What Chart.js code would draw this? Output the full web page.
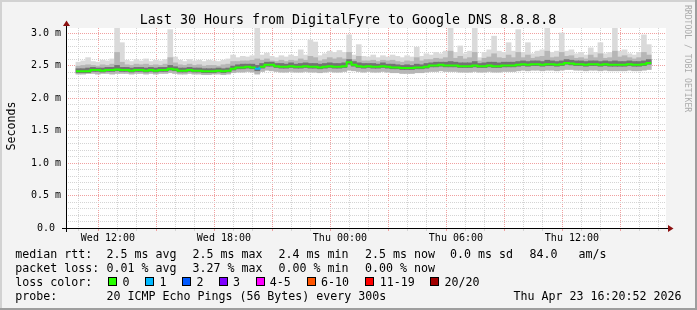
<!DOCTYPE html>
<html><head><meta charset="utf-8">
<script src="https://cdn.jsdelivr.net/npm/chart.js@4"></script>
<style>html,body{margin:0;padding:0;background:#f3f3f3;}canvas{display:block;}</style>
</head><body>
<canvas id="c" width="697" height="310"></canvas>
<script>
const title = 'Last 30 Hours from DigitalFyre to Google DNS 8.8.8.8';
const startMinute = 620.87;   // Wed 10:20:52 (minutes since Wed 00:00)
const endMinute = 2420.87;    // Thu 16:20:52
const binMinutes = 15;

const median = [
2.41,2.41,2.41,2.43,2.43,2.42,2.43,2.43,2.44,2.43,
2.43,2.42,2.43,2.43,2.42,2.43,2.42,2.43,2.43,2.45,
2.44,2.42,2.42,2.43,2.42,2.42,2.41,2.41,2.41,2.42,
2.41,2.42,2.45,2.47,2.47,2.48,2.47,2.45,2.48,2.51,
2.51,2.49,2.48,2.48,2.49,2.48,2.48,2.49,2.48,2.48,
2.47,2.48,2.49,2.48,2.48,2.49,2.55,2.51,2.49,2.48,
2.49,2.48,2.48,2.49,2.48,2.47,2.47,2.46,2.46,2.46,
2.47,2.47,2.48,2.50,2.50,2.51,2.50,2.50,2.50,2.49,
2.49,2.49,2.50,2.49,2.49,2.50,2.49,2.49,2.50,2.50,
2.50,2.51,2.52,2.51,2.52,2.52,2.51,2.52,2.52,2.51,
2.52,2.54,2.53,2.52,2.52,2.51,2.52,2.52,2.51,2.52,
2.51,2.51,2.51,2.51,2.52,2.51,2.51,2.52,2.54];
const hi = [
2.55,2.57,2.62,2.56,2.55,2.58,2.57,2.60,3.10,2.85,
2.58,2.56,2.59,2.57,2.60,2.56,2.58,2.57,2.59,3.05,
2.63,2.58,2.56,2.59,2.57,2.58,2.56,2.58,2.57,2.56,
2.58,2.60,2.66,2.62,2.64,2.63,2.65,3.10,2.66,2.69,
2.64,2.62,2.65,2.63,2.66,2.64,2.74,2.66,2.89,2.86,
2.65,2.68,2.72,2.70,2.73,2.70,2.97,2.66,2.82,2.64,
2.63,2.66,2.62,2.65,2.63,2.66,2.64,2.62,2.65,2.63,
2.78,2.64,2.68,2.66,2.70,2.68,2.72,3.10,2.70,2.80,
2.68,2.72,3.10,2.62,2.70,2.74,2.95,2.72,2.70,2.85,
2.72,3.05,2.70,2.85,2.68,2.72,2.74,3.10,2.70,2.72,
3.00,2.72,2.74,2.68,2.70,2.66,2.77,2.70,2.85,2.68,
2.70,3.10,2.72,2.74,2.68,2.66,2.70,2.97,2.82];
const up = [
2.49,2.50,2.51,2.50,2.49,2.51,2.50,2.52,2.70,2.55,
2.51,2.50,2.52,2.51,2.52,2.50,2.51,2.50,2.52,2.62,
2.54,2.51,2.50,2.52,2.50,2.51,2.49,2.50,2.50,2.49,
2.51,2.52,2.56,2.56,2.57,2.57,2.58,2.60,2.58,2.60,
2.57,2.56,2.58,2.56,2.58,2.57,2.60,2.58,2.64,2.62,
2.57,2.59,2.62,2.60,2.62,2.60,2.70,2.59,2.64,2.57,
2.57,2.58,2.56,2.58,2.57,2.58,2.56,2.55,2.57,2.56,
2.62,2.57,2.59,2.59,2.61,2.60,2.62,2.72,2.61,2.64,
2.60,2.62,2.70,2.57,2.61,2.63,2.68,2.62,2.61,2.66,
2.62,2.70,2.62,2.66,2.61,2.63,2.64,2.72,2.62,2.63,
2.70,2.64,2.65,2.61,2.62,2.60,2.66,2.62,2.68,2.61,
2.62,2.72,2.63,2.65,2.62,2.60,2.62,2.70,2.66];
const q3 = [
2.45,2.45,2.46,2.47,2.46,2.46,2.47,2.47,2.50,2.47,
2.47,2.46,2.47,2.47,2.46,2.47,2.46,2.47,2.47,2.50,
2.48,2.46,2.46,2.47,2.46,2.46,2.45,2.45,2.45,2.46,
2.45,2.46,2.49,2.51,2.52,2.52,2.52,2.50,2.53,2.55,
2.55,2.53,2.53,2.52,2.54,2.52,2.53,2.54,2.53,2.53,
2.52,2.53,2.54,2.53,2.53,2.54,2.59,2.56,2.54,2.53,
2.53,2.53,2.52,2.54,2.52,2.52,2.51,2.50,2.51,2.50,
2.52,2.51,2.53,2.54,2.55,2.55,2.55,2.56,2.55,2.54,
2.54,2.54,2.56,2.53,2.54,2.55,2.55,2.54,2.55,2.55,
2.55,2.56,2.57,2.56,2.57,2.57,2.56,2.58,2.57,2.56,
2.57,2.59,2.58,2.57,2.57,2.56,2.57,2.57,2.56,2.57,
2.56,2.57,2.56,2.56,2.57,2.56,2.56,2.57,2.59];
const q1 = [
2.39,2.39,2.39,2.41,2.41,2.40,2.41,2.41,2.42,2.41,
2.41,2.40,2.41,2.41,2.40,2.41,2.40,2.41,2.41,2.43,
2.42,2.40,2.40,2.41,2.40,2.40,2.39,2.39,2.39,2.40,
2.39,2.40,2.43,2.45,2.45,2.46,2.45,2.42,2.46,2.49,
2.49,2.47,2.46,2.46,2.47,2.46,2.46,2.47,2.46,2.46,
2.45,2.46,2.47,2.46,2.46,2.47,2.52,2.49,2.47,2.46,
2.47,2.46,2.46,2.47,2.46,2.45,2.45,2.44,2.44,2.44,
2.45,2.45,2.46,2.48,2.48,2.49,2.48,2.48,2.48,2.47,
2.47,2.47,2.48,2.47,2.47,2.48,2.47,2.47,2.48,2.48,
2.48,2.49,2.50,2.49,2.50,2.50,2.49,2.50,2.50,2.49,
2.50,2.52,2.51,2.50,2.50,2.49,2.50,2.50,2.49,2.50,
2.49,2.49,2.49,2.49,2.50,2.49,2.49,2.50,2.52];
const lo = [
2.37,2.37,2.38,2.38,2.37,2.38,2.38,2.37,2.38,2.38,
2.38,2.37,2.38,2.38,2.37,2.38,2.37,2.38,2.38,2.39,
2.38,2.37,2.37,2.38,2.37,2.37,2.36,2.36,2.37,2.37,
2.36,2.37,2.39,2.40,2.40,2.41,2.40,2.37,2.41,2.43,
2.42,2.41,2.40,2.40,2.41,2.40,2.40,2.41,2.40,2.40,
2.39,2.40,2.41,2.40,2.40,2.41,2.43,2.42,2.41,2.40,
2.41,2.40,2.40,2.41,2.40,2.39,2.39,2.38,2.38,2.38,
2.39,2.39,2.40,2.41,2.41,2.42,2.41,2.41,2.41,2.40,
2.40,2.40,2.41,2.40,2.40,2.41,2.40,2.40,2.41,2.41,
2.41,2.42,2.43,2.42,2.43,2.43,2.42,2.43,2.43,2.42,
2.43,2.44,2.44,2.43,2.43,2.42,2.43,2.43,2.42,2.43,
2.42,2.42,2.42,2.42,2.43,2.42,2.42,2.43,2.44];
const lossBins = [37];      // bins with packet loss
const lossPings = [1];      // lost pings in those bins

const xTickMinutes = [720, 1080, 1440, 1800, 2160];
const xTickLabels = ['Wed 12:00', 'Wed 18:00', 'Thu 00:00', 'Thu 06:00', 'Thu 12:00'];
const yTickValues = [0, 0.5, 1.0, 1.5, 2.0, 2.5, 3.0];
const yTickLabels = ['0.0 ', '0.5 m', '1.0 m', '1.5 m', '2.0 m', '2.5 m', '3.0 m'];
const yMax = 3.077;

const lossLegend = ['0', '1', '2', '3', '4-5', '6-10', '11-19', '20/20'];
const lossColors = ['#26ff00', '#00b8ff', '#0059ff', '#7e00ff', '#ff00ff', '#ff5500', '#ff0000', '#a10000'];
const rttStats = ['2.5 ms avg', '2.5 ms max', '2.4 ms min', '2.5 ms now', '0.0 ms sd', '84.0', 'am/s'];
const lossStats = ['0.01 % avg', '3.27 % max', '0.00 % min', '0.00 % now'];
const probeText = '20 ICMP Echo Pings (56 Bytes) every 300s';
const stamp = 'Thu Apr 23 16:20:52 2026';
const credit = 'RRDTOOL / TOBI OETIKER';

const MONO = '"DejaVu Sans Mono", monospace';
const MAJOR = '#f0a0a0', MINOR = '#d4d4d4';

function lossColorIndex(p) {
  if (p <= 3) return p;
  if (p <= 5) return 4;
  if (p <= 10) return 5;
  if (p <= 19) return 6;
  return 7;
}
function binLoss(i) { const k = lossBins.indexOf(i); return k >= 0 ? lossPings[k] : 0; }

const centers = median.map((_, i) => startMinute + binMinutes * (i + 0.5));
const band = (a, b) => centers.map((x, i) => ({ x, y: [a[i], b[i]] }));
const medianSteps = median.map((v, i) => ({ x: startMinute + binMinutes * i, y: v }));
medianSteps.push({ x: startMinute + binMinutes * median.length, y: median[median.length - 1] });

const barCommon = { type: 'bar', barPercentage: 1, categoryPercentage: 1, grouped: false, borderWidth: 0, borderSkipped: false, inflateAmount: 0.4 };

const deco = {
  id: 'deco',
  beforeDraw(chart) {
    const { ctx, chartArea: a } = chart;
    ctx.save();
    ctx.fillStyle = '#f3f3f3'; ctx.fillRect(0, 0, 697, 310);
    ctx.fillStyle = '#d2d2d2'; ctx.fillRect(0, 0, 697, 2); ctx.fillRect(0, 0, 2, 310);
    ctx.fillStyle = '#9e9e9e'; ctx.fillRect(695, 0, 2, 310); ctx.fillRect(0, 308, 697, 2);
    ctx.fillStyle = '#ffffff'; ctx.fillRect(a.left, a.top, a.right - a.left, a.bottom - a.top);
    ctx.restore();
  },
  afterDraw(chart) {
    const { ctx, chartArea: a } = chart;
    ctx.save();
    ctx.strokeStyle = '#000'; ctx.lineWidth = 1;
    ctx.beginPath();
    ctx.moveTo(a.left - 4, a.bottom + 0.5); ctx.lineTo(a.right + 2, a.bottom + 0.5);
    ctx.moveTo(a.left + 0.5, a.bottom + 4); ctx.lineTo(a.left + 0.5, a.top - 2);
    ctx.stroke();
    ctx.fillStyle = '#8b1010';
    ctx.beginPath();
    ctx.moveTo(a.right + 2, a.bottom - 3); ctx.lineTo(a.right + 7.5, a.bottom + 0.5); ctx.lineTo(a.right + 2, a.bottom + 4);
    ctx.closePath(); ctx.fill();
    ctx.beginPath();
    ctx.moveTo(a.left - 3, a.top - 2); ctx.lineTo(a.left + 0.5, a.top - 7.5); ctx.lineTo(a.left + 4, a.top - 2);
    ctx.closePath(); ctx.fill();
    ctx.fillStyle = '#000';
    ctx.font = '13.3px ' + MONO; ctx.textAlign = 'center'; ctx.textBaseline = 'alphabetic';
    ctx.fillText(title, 348, 23.5);
    ctx.font = '11.63px ' + MONO;
    ctx.save(); ctx.translate(14.5, 126); ctx.rotate(-Math.PI / 2); ctx.fillText('Seconds', 0, 0); ctx.restore();
    ctx.save(); ctx.fillStyle = '#ababab'; ctx.font = '8.1px ' + MONO; ctx.textAlign = 'left';
    ctx.translate(685, 5); ctx.rotate(Math.PI / 2); ctx.fillText(credit, 0, 0); ctx.restore();
    ctx.textAlign = 'left'; ctx.fillStyle = '#000'; ctx.font = '11.63px ' + MONO;
    const cols = [106.4, 192.4, 278.4, 365, 450, 529.4, 578.4];
    const base = [258, 272, 286, 300];
    ctx.fillText('median rtt:', 15.2, base[0]);
    rttStats.forEach((t, i) => ctx.fillText(t, cols[i], base[0]));
    ctx.fillText('packet loss:', 15.2, base[1]);
    lossStats.forEach((t, i) => ctx.fillText(t, cols[i], base[1]));
    ctx.fillText('loss color:', 15.2, base[2]);
    const boxX = [108, 145, 182, 219, 256, 307, 365, 430];
    const labX = [122.4, 159.4, 196.4, 233.1, 269.8, 321.1, 379.8, 444.4];
    lossLegend.forEach((t, i) => {
      ctx.fillStyle = '#000'; ctx.fillRect(boxX[i], 277, 9, 9);
      ctx.fillStyle = lossColors[i]; ctx.fillRect(boxX[i] + 1, 278, 7, 7);
      ctx.fillStyle = '#000'; ctx.fillText(t, labX[i], base[2]);
    });
    ctx.fillText('probe:', 15.2, base[3]);
    ctx.fillText(probeText, 106.4, base[3]);
    ctx.textAlign = 'right'; ctx.fillText(stamp, 681.5, base[3]);
    ctx.restore();
  }
};

Chart.defaults.font.family = MONO;
new Chart(document.getElementById('c'), {
  type: 'bar',
  data: {
    datasets: [
      { ...barCommon, data: band(lo, hi), backgroundColor: '#dadada', order: 4 },
      { ...barCommon, data: band(lo, up), backgroundColor: '#b6b6b6', order: 3 },
      { ...barCommon, data: band(q1, q3), backgroundColor: '#737373', order: 2 },
      { type: 'line', data: medianSteps, stepped: 'before', borderColor: lossColors[0], borderWidth: 2,
        pointRadius: 0, borderCapStyle: 'butt', borderJoinStyle: 'miter', order: 1,
        segment: { borderColor: c => lossColors[lossColorIndex(binLoss(c.p0DataIndex))] } }
    ]
  },
  options: {
    responsive: false, devicePixelRatio: 1, animation: false, events: [],
    layout: { padding: { left: 0, right: 31, top: 28, bottom: 0 } },
    plugins: { legend: { display: false }, tooltip: { enabled: false }, title: { display: false } },
    scales: {
      x: {
        type: 'linear', min: startMinute, max: endMinute,
        afterBuildTicks: s => { const t = []; for (let m = 660; m <= 2400; m += 60) t.push({ value: m }); s.ticks = t; },
        afterFit: s => { s.height = 82; },
        ticks: { autoSkip: false, maxRotation: 0, minRotation: 0, padding: 1, color: '#000', font: { size: 10 },
          callback: v => { const k = xTickMinutes.indexOf(v); return k >= 0 ? xTickLabels[k] : ''; } },
        grid: { color: c => (c.tick && c.tick.value % 180 === 0) ? MAJOR : MINOR, lineWidth: 1,
          drawTicks: true, tickLength: 3, tickColor: c => (c.tick && c.tick.value % 180 === 0) ? MAJOR : MINOR },
        border: { display: false, dash: [1, 1] }
      },
      y: {
        type: 'linear', min: 0, max: yMax,
        afterBuildTicks: s => { const t = []; for (let k = 0; k <= 30; k++) t.push({ value: k / 10 }); s.ticks = t; },
        afterFit: s => { s.width = 66; },
        ticks: { autoSkip: false, padding: 5, color: '#000', font: { size: 10 },
          callback: v => { const k = yTickValues.findIndex(t => Math.abs(t - v) < 1e-6); return k >= 0 ? yTickLabels[k] : ''; } },
        grid: { color: c => (c.tick && Math.abs(c.tick.value * 2 - Math.round(c.tick.value * 2)) < 1e-6) ? MAJOR : MINOR,
          lineWidth: 1, drawTicks: false },
        border: { display: false, dash: [1, 1] }
      }
    }
  },
  plugins: [deco]
});
</script>
</body></html>
